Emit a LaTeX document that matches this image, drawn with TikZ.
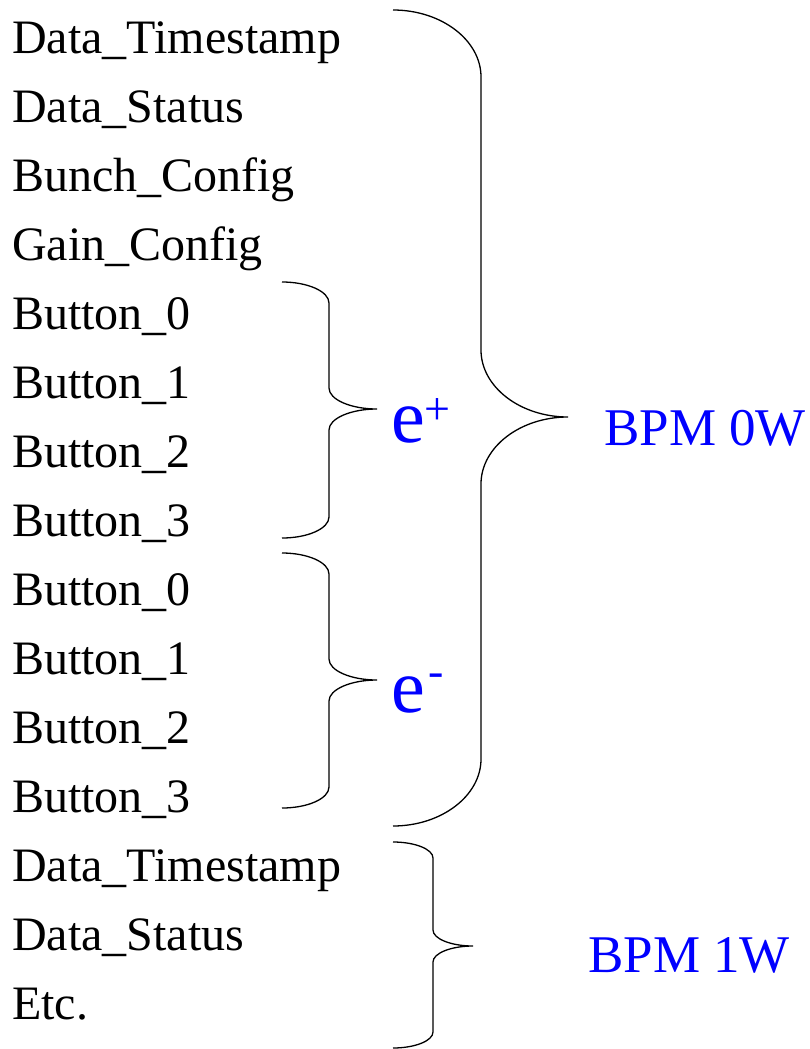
\documentclass[tikz,border=0pt]{standalone}
\usepackage{fontspec}
\setmainfont{Liberation Serif}
\definecolor{lblue}{RGB}{0,0,255}
\newcommand\cbrace[7]{% x0, xv, xt, ytop, ytip, ybot, r
  \draw[bracestyle] (#1,#4) .. controls ({#1+0.55*(#2-#1)},#4) and (#2,{#4+0.45*#7}) .. (#2,{#4+#7})
    -- (#2,{#5-#7}) .. controls (#2,{#5-0.45*#7}) and ({#3-0.55*(#3-#2)},#5) .. (#3,#5)
    .. controls ({#3-0.55*(#3-#2)},#5) and (#2,{#5+0.45*#7}) .. (#2,{#5+#7})
    -- (#2,{#6-#7}) .. controls (#2,{#6-0.45*#7}) and ({#1+0.55*(#2-#1)},#6) .. (#1,#6);}
\begin{document}
\begin{tikzpicture}[x=1pt,y=-1pt,
  item/.style={anchor=base west,inner sep=0pt,font=\fontsize{48}{56}\selectfont},
  bpm/.style={anchor=base west,inner sep=0pt,text=lblue,font=\fontsize{53}{60}\selectfont},
  beam/.style={anchor=base west,inner sep=0pt,text=lblue,font=\fontsize{76}{84}\selectfont},
  sign/.style={anchor=center,inner sep=0pt,text=lblue,font=\fontsize{46}{50}\selectfont},
  bracestyle/.style={draw=black,line width=1.3pt}]
\useasboundingbox (0,0) rectangle (809,1049);
\node[item] (t0) at (12,53) {Data\_Timestamp};
\node[item] (s0) at (12,122) {Data\_Status};
\node[item] (bc) at (12,191) {Bunch\_Config};
\node[item] (gc) at (12,260) {Gain\_Config};
\node[item] (p0) at (12,329) {Button\_0};
\node[item] (p1) at (12,398) {Button\_1};
\node[item] (p2) at (12,467) {Button\_2};
\node[item] (p3) at (12,536) {Button\_3};
\node[item] (m0) at (12,605) {Button\_0};
\node[item] (m1) at (12,674) {Button\_1};
\node[item] (m2) at (12,743) {Button\_2};
\node[item] (m3) at (12,812) {Button\_3};
\node[item] (t1) at (12,881) {Data\_Timestamp};
\node[item] (s1) at (12,950) {Data\_Status};
\node[item] (etc) at (12,1019) {Etc.};
\cbrace{393}{481}{568}{10}{417}{826}{67}
\cbrace{282}{329}{377}{282}{409}{538}{21}
\cbrace{282}{329}{377}{553}{680}{808}{21}
\cbrace{393}{433}{473}{842}{946}{1048}{16}
\node[beam] (ep) at (391,442) {e};
\node[sign] (eps) at (437,412) {+};
\node[beam] (em) at (391,712) {e};
\node[sign] (ems) at (436,680) {-};
\node[bpm] (b0) at (604,445) {BPM 0W};
\node[bpm] (b1) at (588,972) {BPM 1W};
\end{tikzpicture}
\end{document}
